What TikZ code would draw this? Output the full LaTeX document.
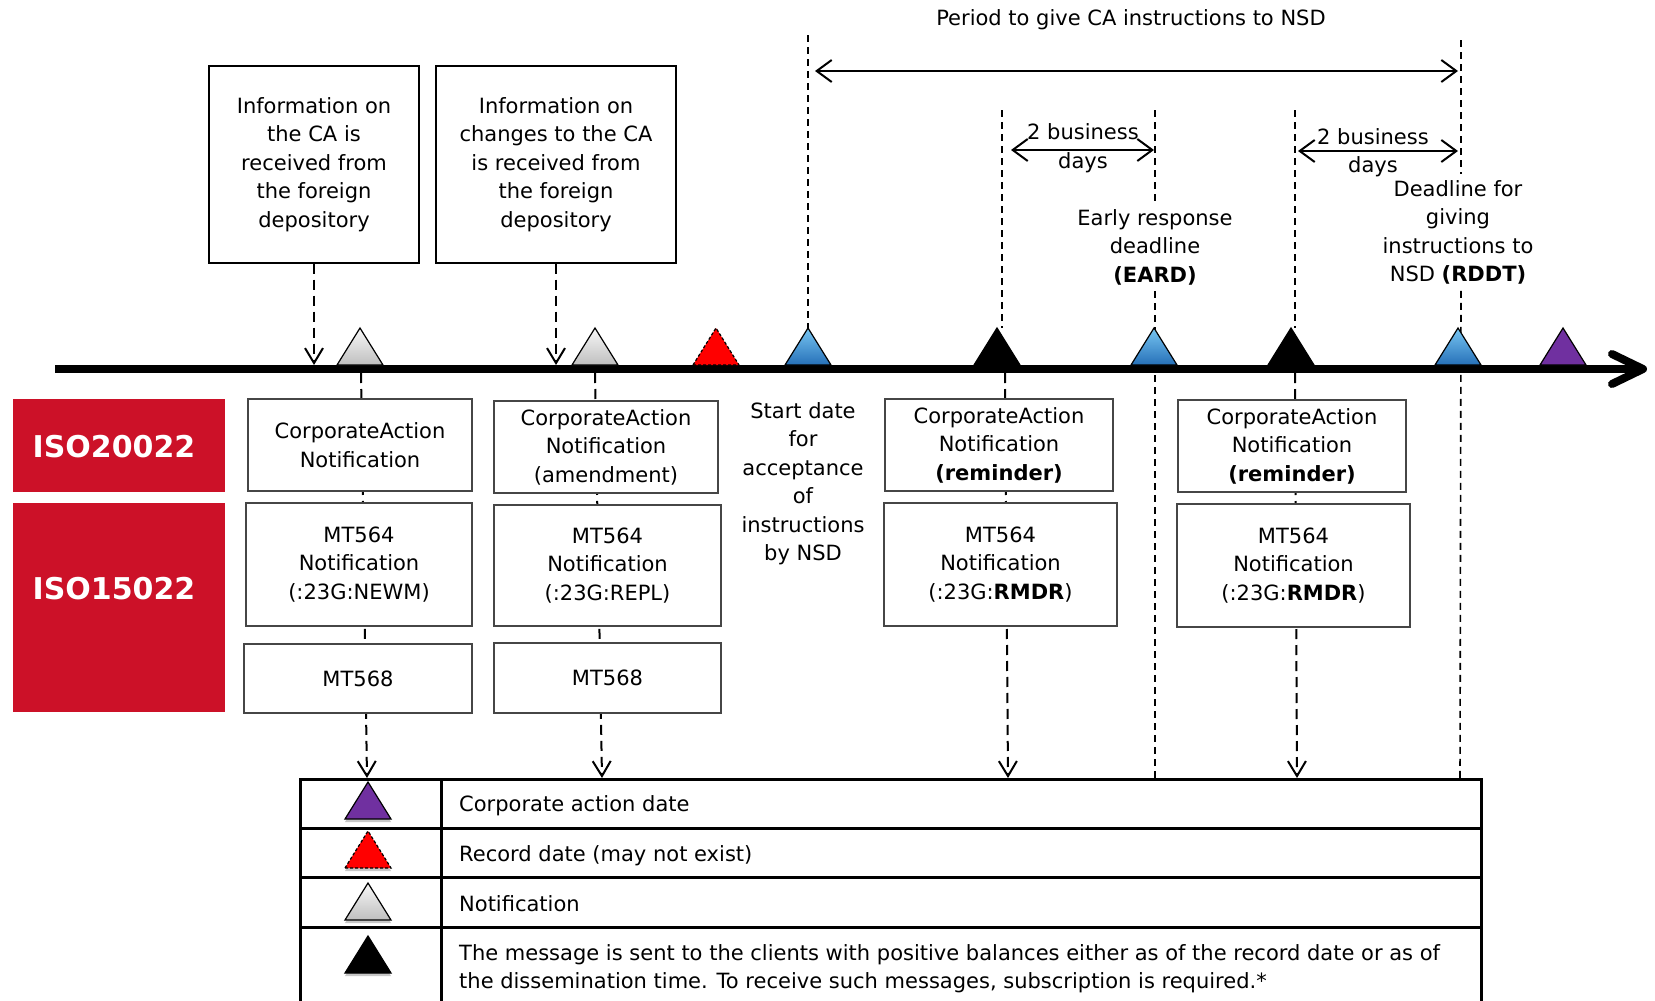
\documentclass[tikz,border=0pt]{standalone}
\usepackage{fontspec}
\setmainfont{DejaVu Sans}
\usetikzlibrary{arrows.meta,calc,shadows}
\pgfdeclarelayer{back}
\pgfdeclarelayer{mid}
\pgfsetlayers{back,mid,main}
\definecolor{isored}{RGB}{204,17,40}
\definecolor{triblueT}{RGB}{120,198,242}
\definecolor{triblueB}{RGB}{38,112,184}
\definecolor{tripurple}{RGB}{112,48,160}
\definecolor{boxgray}{RGB}{70,70,70}
\newcommand{\tmark}[4]{\path[#4] (#2-23,#3) -- (#2,#3-37) -- (#2+23,#3) -- cycle; \coordinate (#1) at (#2,#3-37);}
\tikzset{
 txt/.style={font=\fontsize{21}{28.5}\selectfont, align=center, inner sep=0pt},
 freetxt/.style={txt, yshift=-2pt},
 info/.style={draw=black, line width=1.2pt, fill=white, txt},
 msg/.style={draw=boxgray, line width=1.5pt, fill=white, txt},
 isobox/.style={fill=isored, draw=none, text=white, font=\fontsize{30}{36}\selectfont\bfseries},
 vdash/.style={dash pattern=on 7pt off 5pt, line width=1.6pt},
 adash/.style={dash pattern=on 10pt off 6pt, line width=2pt, -{Straight Barb[length=15pt,width=18pt]}},
 spanarrow/.style={line width=2pt, {Straight Barb[length=15pt,width=22pt]}-{Straight Barb[length=15pt,width=22pt]}},
 tshadow/.style={drop shadow={shadow xshift=0pt, shadow yshift=-3pt, opacity=0.22, fill=black}},
 tgray/.style={tshadow, draw=black, line width=1.2pt, top color=gray!6, bottom color=gray!50},
 tblue/.style={tshadow, draw=black, line width=1.2pt, top color=triblueT, bottom color=triblueB},
 tblack/.style={tshadow, fill=black, draw=black, line width=1.2pt},
 tred/.style={tshadow, fill=red, draw=black, line width=1.2pt, dash pattern=on 3pt off 2pt},
 tpurple/.style={tshadow, fill=tripurple, draw=black, line width=1.2pt},
 tabline/.style={line width=3pt},
}
\begin{document}
\begin{tikzpicture}[x=1pt,y=-1pt]
\useasboundingbox (0,0) rectangle (1655,1001);

% ---------- nodes (main layer) ----------
\node[info, minimum width=210pt, minimum height=197pt] (info1) at (314,164.5) {Information on\\the CA is\\received from\\the foreign\\depository};
\node[info, minimum width=240pt, minimum height=197pt] (info2) at (556,164.5) {Information on\\changes to the CA\\is received from\\the foreign\\depository};

\node[isobox, minimum width=212pt, minimum height=93pt] (iso20) at (119,445.5) {};
\node[isobox, fill=none] (iso20t) at (114,447) {ISO20022};
\node[isobox, minimum width=212pt, minimum height=209pt] (iso15) at (119,607.5) {};
\node[isobox, fill=none] (iso15t) at (114,589) {ISO15022};

\node[msg, minimum width=224pt, minimum height=92pt] (c1a) at (360,445) {CorporateAction\\Notification};
\node[msg, minimum width=226pt, minimum height=123pt] (c1b) at (359,564.5) {MT564\\Notification\\(:23G:NEWM)};
\node[msg, minimum width=228pt, minimum height=69pt] (c1c) at (358,678.5) {MT568};

\node[msg, minimum width=224pt, minimum height=92pt] (c2a) at (606,447) {CorporateAction\\Notification\\(amendment)};
\node[msg, minimum width=227pt, minimum height=121pt] (c2b) at (607.5,565.5) {MT564\\Notification\\(:23G:REPL)};
\node[msg, minimum width=227pt, minimum height=70pt] (c2c) at (607.5,678) {MT568};

\node[msg, minimum width=228pt, minimum height=92pt] (c3a) at (999,445) {CorporateAction\\Notification\\\textbf{(reminder)}};
\node[msg, minimum width=233pt, minimum height=123pt] (c3b) at (1000.5,564.5) {MT564\\Notification\\(:23G:\textbf{RMDR})};

\node[msg, minimum width=228pt, minimum height=92pt] (c4a) at (1292,446) {CorporateAction\\Notification\\\textbf{(reminder)}};
\node[msg, minimum width=233pt, minimum height=123pt] (c4b) at (1293.5,565.5) {MT564\\Notification\\(:23G:\textbf{RMDR})};

\node[freetxt] (period) at (1131,18) {Period to give CA instructions to NSD};
\node[freetxt] (biz1) at (1083,146) {2 business\\days};
\node[freetxt] (biz2) at (1373,150.5) {2 business\\days};
\node[freetxt, inner sep=6pt] (eard) at (1155,245) {Early response\\deadline\\\textbf{(EARD)}};
\node[freetxt, inner sep=6pt] (rddt) at (1458,230.5) {Deadline for\\giving\\instructions to\\NSD \textbf{(RDDT)}};
\node[freetxt] (start) at (803,481.5) {Start date\\for\\acceptance\\of\\instructions\\by NSD};

% legend table
\draw[tabline, fill=white] (300,1015) -- (300,779) -- (1481,779) -- (1481,1015);
\coordinate (tab-l1) at (300,828); \coordinate (tab-r1) at (1481,828);
\coordinate (tab-l2) at (300,877); \coordinate (tab-r2) at (1481,877);
\coordinate (tab-l3) at (300,927); \coordinate (tab-r3) at (1481,927);
\coordinate (tab-dt) at (441,779); \coordinate (tab-db) at (441,1015);
\draw[tabline] (tab-l1) -- (tab-r1);
\draw[tabline] (tab-l2) -- (tab-r2);
\draw[tabline] (tab-l3) -- (tab-r3);
\draw[tabline] (tab-dt) -- (tab-db);
\tmark{lg1}{368}{819}{tpurple}
\tmark{lg2}{368}{868}{tred}
\tmark{lg3}{368}{920}{tgray}
\tmark{lg4}{368}{973}{tblack}
\node[freetxt, anchor=west] (lt1) at (459,804) {Corporate action date};
\node[freetxt, anchor=west] (lt2) at (459,854) {Record date (may not exist)};
\node[freetxt, anchor=west] (lt3) at (459,902) {Notification};
\node[freetxt, anchor=west, align=left] (lt4) at (459,966.5) {The message is sent to the clients with positive balances either as of the record date or as of\\the dissemination time. To receive such messages, subscription is required.*};

% ---------- timeline and markers (mid layer) ----------
\begin{pgfonlayer}{mid}
\coordinate (tl-start) at (55,369);
\coordinate (tl-end) at (1638,369);
\coordinate (ah-a) at (1612,354);
\coordinate (tl-tip) at (1643,369);
\coordinate (ah-b) at (1612,384);
\draw[line width=8pt] (tl-start) -- (tl-end);
\draw[line width=8pt, line cap=round, line join=round] (ah-a) -- (tl-tip) -- (ah-b);
\tmark{g1}{360}{365}{tgray}
\tmark{g2}{595}{365}{tgray}
\tmark{rd}{716}{365}{tred}
\tmark{b1}{808}{365}{tblue}
\tmark{k1}{997}{365}{tblack}
\tmark{b2}{1154}{365}{tblue}
\tmark{k2}{1291}{365}{tblack}
\tmark{b3}{1458}{365}{tblue}
\tmark{pu}{1563}{365}{tpurple}
\end{pgfonlayer}

% ---------- connectors (back layer) ----------
\begin{pgfonlayer}{back}
\coordinate (tl-top) at (0,365);
\coordinate (g1-foot) at (361,373);
\coordinate (g2-foot) at (595,373);
\coordinate (k1-foot) at (1005,373);
\coordinate (k2-foot) at (1295,373);
\coordinate (tab-c1) at (367,778);
\coordinate (tab-c2) at (602,778);
\coordinate (tab-c3) at (1008,778);
\coordinate (tab-c4) at (1297,778);
\coordinate (tab-eard) at (1155,778);
\coordinate (tab-rddt) at (1460,778);
\coordinate (vs-top) at (808,35);
\coordinate (vr1-top) at (1002,110);
\coordinate (vr2-top) at (1295,110);
\coordinate (ve-top) at (1155,110);
\coordinate (vd-top) at (1461,40);
\coordinate (p-left) at (815,71);
\coordinate (p-right) at (1458,71);
\coordinate (s1-left) at (1011,150);
\coordinate (s1-right) at (1154,150);
\coordinate (s2-left) at (1298,151);
\coordinate (s2-right) at (1458,151);

\draw[adash] (info1.south) -- (info1.south |- tl-top);
\draw[adash] (info2.south) -- (info2.south |- tl-top);
\draw[adash] (g1-foot) -- (tab-c1);
\draw[adash] (g2-foot) -- (tab-c2);
\draw[adash] (k1-foot) -- (tab-c3);
\draw[adash] (k2-foot) -- (tab-c4);
\draw[vdash] (vs-top) -- (b1);
\draw[vdash] (vr1-top) -- (vr1-top |- k1);
\draw[vdash] (vr2-top) -- (vr2-top |- k2);
\draw[vdash] (ve-top) -- (eard.north);
\draw[vdash] (eard.south) -- (tab-eard);
\draw[vdash] (vd-top) -- (vd-top |- rddt.north);
\draw[vdash] (vd-top |- rddt.south) -- (tab-rddt);
\draw[spanarrow] (p-left) -- (p-right);
\draw[spanarrow] (s1-left) -- (s1-right);
\draw[spanarrow] (s2-left) -- (s2-right);
\end{pgfonlayer}
\end{tikzpicture}
\end{document}
